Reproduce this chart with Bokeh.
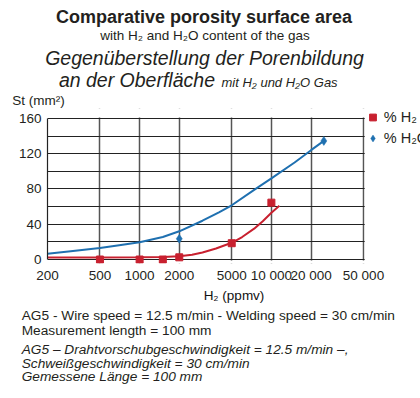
from bokeh.plotting import figure
from bokeh.models import FixedTicker, Legend, LegendItem, Div, BoxAnnotation
from bokeh.layouts import column
from bokeh.embed import file_html
from bokeh.resources import INLINE

# ---------------- data ----------------
x_ticks = [200, 500, 1000, 2000, 5000, 10000, 20000, 50000]
x_tick_labels = ["200", "500", "1000", "2000", "5000", "10 000", "20 000", "50 000"]
y_ticks = [0, 40, 80, 120, 160]
y_grid_ticks = [0, 20, 40, 60, 80, 100, 120, 140, 160]

h2_x = [500, 1000, 1500, 2000, 5000, 10000]
h2_y = [0, 0, 0, 2.5, 18.5, 64.5]
h2o_x = [2000, 25000]
h2o_y = [23.5, 134.5]

h2_curve_x = [200, 500, 1000, 1500, 2000, 2500, 3000, 3800, 5000, 6000, 7400, 8600, 10000, 11500]
h2_curve_y = [2.4, 2.4, 2.6, 3.0, 3.8, 5.5, 8.0, 12.5, 19, 25.5, 35, 43.5, 53, 61]
h2o_curve_x = [200, 300, 500, 700, 1000, 1500, 2000, 3000, 4000, 5000, 7400, 10000, 15000, 20000, 25000]
h2o_curve_y = [6.5, 9.5, 13, 16.3, 19.5, 25.5, 32, 44, 53.5, 61.5, 79, 92, 110, 124, 134.5]

series_labels = ["% H\u2082", "% H\u2082O"]

RED = "#c8202f"
BLUE = "#1f70b0"
TXT = "#231f20"
FONT = "Liberation Sans"

HEAD_H, FIG_H, FOOT_H = 108, 197, 93

# plot box (page px): x 47..363 for 200..50000, y 260..118 for 0..160
X0, X1, XL, XR = 200, 50000, 47, 363
PX_PER_DEC = (XR - XL) / 2.39794
X_END = X1 * 10 ** ((420 - XR) / PX_PER_DEC)      # frame reaches the right page edge
PX_PER_Y = (260 - 118) / 160
Y_START = -(264 - 260) / PX_PER_Y
Y_END = 160 + (118 - HEAD_H) / PX_PER_Y

# ---------------- figure ----------------
p = figure(width=420, height=FIG_H, x_axis_type="log", x_range=(X0, X_END), y_range=(Y_START, Y_END),
           output_backend="svg", toolbar_location=None,
           min_border_left=47, min_border_right=0, min_border_top=0, min_border_bottom=41)
p.background_fill_color = "white"
p.border_fill_color = "white"
p.outline_line_color = None

p.xaxis.ticker = FixedTicker(ticks=x_ticks)
p.xaxis.major_label_overrides = {t: l for t, l in zip(x_ticks, x_tick_labels)}
p.yaxis.ticker = FixedTicker(ticks=y_ticks)
for ax in (p.xaxis[0], p.yaxis[0]):
    ax.major_tick_line_color = None
    ax.major_tick_out = 0
    ax.major_tick_in = 0
    ax.minor_tick_line_color = None
    ax.minor_tick_out = 0
    ax.major_label_text_font = FONT
    ax.major_label_text_font_size = "13.5px"
    ax.major_label_text_color = TXT
p.xaxis.axis_line_color = None
p.yaxis.axis_line_color = "#222222"
p.yaxis.axis_line_width = 1.2
p.yaxis.bounds = (0, 160)
p.xaxis.major_label_standoff = 4
p.yaxis.major_label_standoff = 6
p.xaxis.axis_label = "H\u2082 (ppmv)"
p.xaxis.axis_label_text_font = FONT
p.xaxis.axis_label_text_font_size = "13.5px"
p.xaxis.axis_label_text_font_style = "normal"
p.xaxis.axis_label_text_color = "#111111"
p.xaxis.axis_label_standoff = 2

p.xgrid.ticker = FixedTicker(ticks=x_ticks)
p.xgrid.grid_line_color = "#555555"
p.xgrid.grid_line_width = 1.5
p.ygrid.ticker = FixedTicker(ticks=y_grid_ticks)
p.ygrid.grid_line_color = "#222222"
p.ygrid.grid_line_width = 1.1

# white masks that keep the grid inside the 200..50000 x 0..160 box
eps_y = 0.9 / PX_PER_Y
x_mask = X1 * 10 ** (1.2 / PX_PER_DEC)
for kw in (dict(bottom=160 + eps_y), dict(top=-eps_y), dict(left=x_mask)):
    p.add_layout(BoxAnnotation(fill_color="white", fill_alpha=1, line_color=None, level="underlay", **kw))

# curves
p.line(h2_curve_x, h2_curve_y, line_color=RED, line_width=2)
p.line(h2o_curve_x, h2o_curve_y, line_color=BLUE, line_width=2)
# points
r_sq = p.scatter(h2_x, h2_y, marker="square", size=7, fill_color=RED, line_color=RED)
r_di = p.scatter(h2o_x, h2o_y, marker="diamond", size=9, fill_color=BLUE, line_color=BLUE, line_width=0.5)

legend = Legend(items=[LegendItem(label=series_labels[0], renderers=[r_sq]),
                       LegendItem(label=series_labels[1], renderers=[r_di])],
                location=(316.8, 114.7), orientation="vertical",
                padding=0, margin=0, spacing=1, glyph_width=17, glyph_height=20,
                label_height=20, label_standoff=3,
                label_text_font=FONT, label_text_font_size="14.5px", label_text_color=TXT,
                background_fill_alpha=0, border_line_alpha=0)
p.add_layout(legend)


# ---------------- header / footer texts ----------------
def txt(text, baseline, size, left=None, right=None, center=None, style="normal", weight="normal"):
    top = baseline - 0.8465 * size
    pos = f"top:{top:.1f}px;"
    if center is not None:
        pos += f"left:{center - 210:.1f}px;width:420px;text-align:center;"
    elif right is not None:
        pos += f"right:{420 - right:.1f}px;text-align:right;"
    else:
        pos += f"left:{left:.1f}px;"
    return (f'<div style="position:absolute;{pos}white-space:nowrap;line-height:1;'
            f'font-family:\'{FONT}\';font-size:{size}px;font-style:{style};font-weight:{weight};'
            f'color:{TXT};">{text}</div>')


def block(lines, h):
    return f'<div style="position:relative;width:420px;height:{h}px;margin:0;padding:0;">' + "".join(lines) + "</div>"


head_lines = [
    txt("Comparative porosity surface area", 22.7, 18, center=204, weight="bold"),
    txt("with H\u2082 and H\u2082O content of the gas", 40, 13.5, center=205),
    txt("Gegen\u00fcberstellung der Porenbildung", 65, 19.5, center=204.5, style="italic"),
    txt("an der Oberfl\u00e4che", 87, 19.5, right=215, style="italic"),
    txt("mit H\u2082 und H\u2082O Gas", 87, 13, left=221.5, style="italic"),
    txt("St (mm\u00b2)", 105, 13.5, left=12.3),
]
foot_lines = [
    txt("AG5 - Wire speed = 12.5 m/min - Welding speed = 30 cm/min", 321 - 305, 13.7, left=21.7),
    txt("Measurement length = 100 mm", 336 - 305, 13.7, left=21.7),
    txt("AG5 \u2013 Drahtvorschubgeschwindigkeit = 12.5 m/min \u2013,", 355 - 305, 13.7, left=21.7, style="italic"),
    txt("Schwei\u00dfgeschwindigkeit = 30 cm/min", 368.5 - 305, 13.7, left=21.7, style="italic"),
    txt("Gemessene L\u00e4nge = 100 mm", 382 - 305, 13.7, left=21.7, style="italic"),
]

head = Div(text=block(head_lines, HEAD_H), width=420, height=HEAD_H, margin=0)
foot = Div(text=block(foot_lines, FOOT_H), width=420, height=FOOT_H, margin=0)

layout = column(head, p, foot, spacing=0, margin=0)
open("out.html", "w").write(file_html(layout, INLINE))
